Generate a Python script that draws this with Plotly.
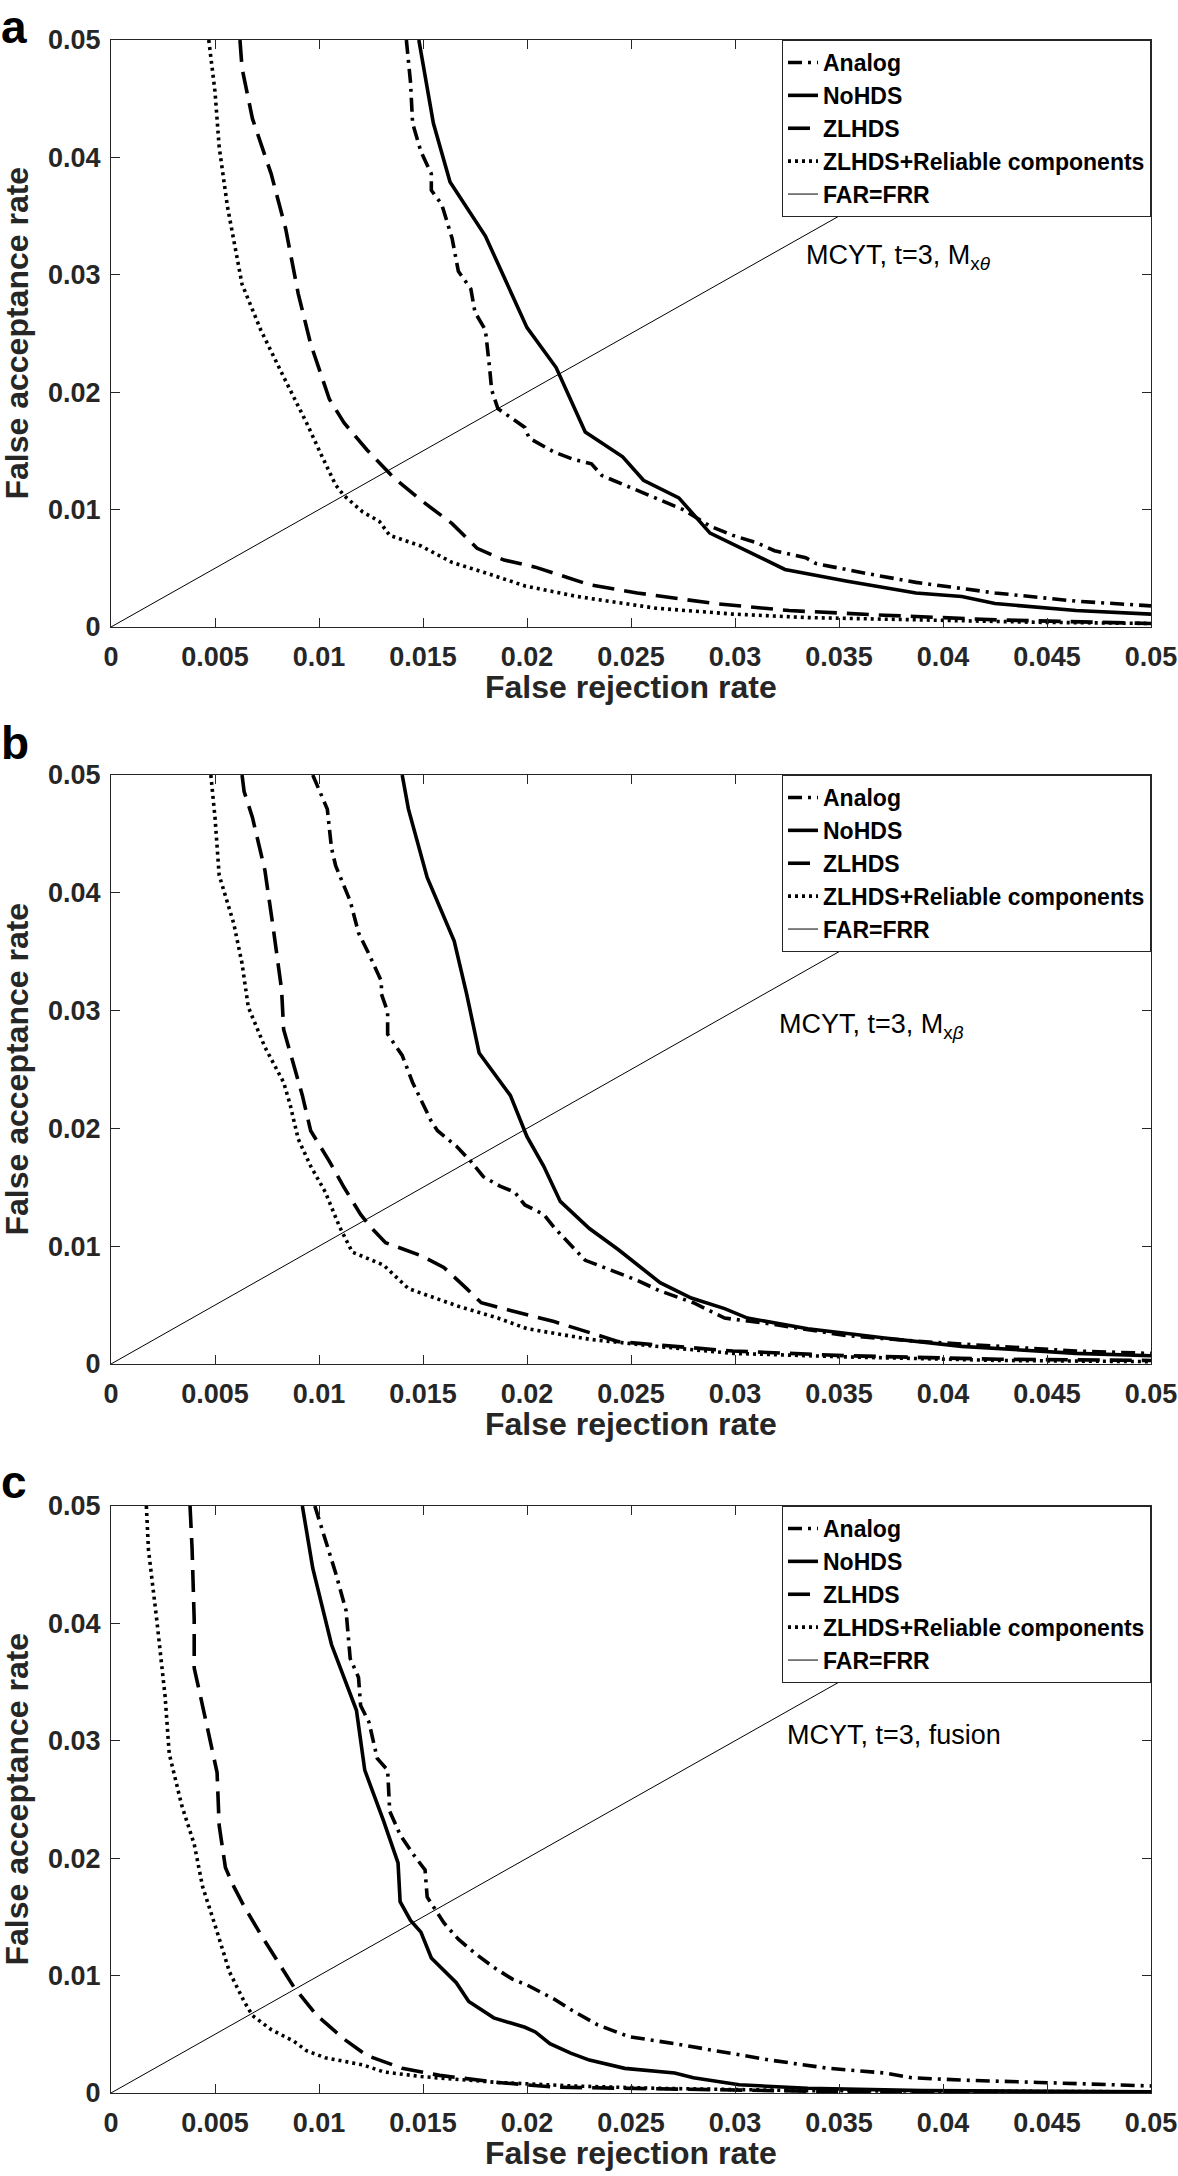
import plotly.graph_objects as go

# ---------------- data ----------------
x_ticks = [0, 0.005, 0.01, 0.015, 0.02, 0.025, 0.03, 0.035, 0.04, 0.045, 0.05]
x_tick_text = ["0", "0.005", "0.01", "0.015", "0.02", "0.025", "0.03", "0.035", "0.04", "0.045", "0.05"]
y_ticks = [0, 0.01, 0.02, 0.03, 0.04, 0.05]
y_tick_text = ["0", "0.01", "0.02", "0.03", "0.04", "0.05"]
far_frr = [0, 0.05]

series_names = ["Analog", "NoHDS", "ZLHDS", "ZLHDS+Reliable components", "FAR=FRR"]
panel_labels = ["a", "b", "c"]
panel_notes = ["MCYT, t=3, M<sub>x<i>θ</i></sub>", "MCYT, t=3, M<sub>x<i>β</i></sub>", "MCYT, t=3, fusion"]
x_title = "False rejection rate"
y_title = "False acceptance rate"

# panel a
a_analog_x = [0.0142, 0.0144, 0.0145, 0.0149, 0.0154, 0.0154, 0.0159, 0.0164, 0.0167, 0.0173, 0.0175, 0.0180, 0.0182, 0.0183, 0.0186, 0.0191, 0.0199, 0.0201, 0.0213, 0.0222, 0.0231, 0.0236, 0.0253, 0.0275, 0.0288, 0.0299, 0.0310, 0.0319, 0.0334, 0.0339, 0.0365, 0.0387, 0.0425, 0.0464, 0.0500]
a_analog_y = [0.0500, 0.0464, 0.0429, 0.0405, 0.0386, 0.0372, 0.0360, 0.0331, 0.0303, 0.0288, 0.0268, 0.0253, 0.0221, 0.0202, 0.0186, 0.0180, 0.0170, 0.0161, 0.0149, 0.0143, 0.0139, 0.0129, 0.0116, 0.0100, 0.0086, 0.0078, 0.0072, 0.0065, 0.0059, 0.0054, 0.0045, 0.0038, 0.0029, 0.0022, 0.0018]
a_nohds_x = [0.0148, 0.0155, 0.0163, 0.0180, 0.0200, 0.0214, 0.0228, 0.0246, 0.0256, 0.0273, 0.0288, 0.0301, 0.0324, 0.0354, 0.0387, 0.0409, 0.0425, 0.0464, 0.0500]
a_nohds_y = [0.0500, 0.0429, 0.0379, 0.0333, 0.0255, 0.0221, 0.0166, 0.0145, 0.0125, 0.0110, 0.0080, 0.0069, 0.0049, 0.0039, 0.0029, 0.0026, 0.0020, 0.0014, 0.0011]
a_zl_x = [0.0062, 0.0063, 0.0068, 0.0077, 0.0084, 0.0090, 0.0096, 0.0105, 0.0112, 0.0123, 0.0136, 0.0149, 0.0164, 0.0176, 0.0189, 0.0204, 0.0230, 0.0253, 0.0290, 0.0326, 0.0372, 0.0427, 0.0500]
a_zl_y = [0.0500, 0.0476, 0.0433, 0.0386, 0.0339, 0.0284, 0.0241, 0.0194, 0.0174, 0.0151, 0.0127, 0.0108, 0.0088, 0.0067, 0.0057, 0.0051, 0.0036, 0.0029, 0.0020, 0.0014, 0.0010, 0.0006, 0.0003]
a_rel_x = [0.0047, 0.0050, 0.0052, 0.0056, 0.0063, 0.0072, 0.0083, 0.0094, 0.0101, 0.0108, 0.0112, 0.0121, 0.0129, 0.0134, 0.0149, 0.0164, 0.0182, 0.0199, 0.0224, 0.0262, 0.0299, 0.0335, 0.0390, 0.0446, 0.0500]
a_rel_y = [0.0500, 0.0456, 0.0409, 0.0358, 0.0292, 0.0253, 0.0213, 0.0174, 0.0147, 0.0121, 0.0112, 0.0098, 0.0090, 0.0078, 0.0069, 0.0055, 0.0045, 0.0035, 0.0026, 0.0016, 0.0011, 0.0008, 0.0006, 0.0004, 0.0003]

# panel b
b_analog_x = [0.0097, 0.0104, 0.0106, 0.0108, 0.0115, 0.0119, 0.0124, 0.0130, 0.0130, 0.0133, 0.0133, 0.0140, 0.0145, 0.0150, 0.0154, 0.0157, 0.0166, 0.0173, 0.0179, 0.0187, 0.0194, 0.0199, 0.0208, 0.0213, 0.0219, 0.0228, 0.0234, 0.0253, 0.0264, 0.0280, 0.0295, 0.0317, 0.0354, 0.0390, 0.0427, 0.0464, 0.0500]
b_analog_y = [0.0500, 0.0471, 0.0438, 0.0423, 0.0393, 0.0366, 0.0348, 0.0325, 0.0314, 0.0299, 0.0280, 0.0262, 0.0239, 0.0221, 0.0206, 0.0198, 0.0185, 0.0172, 0.0159, 0.0151, 0.0146, 0.0135, 0.0127, 0.0116, 0.0105, 0.0088, 0.0084, 0.0071, 0.0062, 0.0052, 0.0039, 0.0034, 0.0024, 0.0019, 0.0015, 0.0011, 0.0009]
b_nohds_x = [0.0140, 0.0143, 0.0152, 0.0165, 0.0171, 0.0177, 0.0192, 0.0200, 0.0208, 0.0216, 0.0230, 0.0244, 0.0264, 0.0279, 0.0295, 0.0306, 0.0335, 0.0372, 0.0409, 0.0464, 0.0500]
b_nohds_y = [0.0500, 0.0471, 0.0413, 0.0359, 0.0314, 0.0264, 0.0228, 0.0193, 0.0168, 0.0138, 0.0115, 0.0097, 0.0069, 0.0056, 0.0047, 0.0039, 0.0030, 0.0022, 0.0015, 0.0009, 0.0007]
b_zl_x = [0.0063, 0.0064, 0.0068, 0.0074, 0.0078, 0.0082, 0.0083, 0.0088, 0.0092, 0.0096, 0.0105, 0.0112, 0.0120, 0.0125, 0.0132, 0.0149, 0.0160, 0.0171, 0.0178, 0.0193, 0.0213, 0.0235, 0.0244, 0.0271, 0.0299, 0.0354, 0.0427, 0.0500]
b_zl_y = [0.0500, 0.0486, 0.0464, 0.0419, 0.0370, 0.0318, 0.0284, 0.0254, 0.0228, 0.0198, 0.0172, 0.0150, 0.0127, 0.0116, 0.0103, 0.0092, 0.0082, 0.0064, 0.0052, 0.0045, 0.0036, 0.0024, 0.0019, 0.0015, 0.0011, 0.0007, 0.0004, 0.0003]
b_rel_x = [0.0048, 0.0050, 0.0052, 0.0059, 0.0063, 0.0066, 0.0074, 0.0083, 0.0086, 0.0090, 0.0096, 0.0103, 0.0110, 0.0116, 0.0131, 0.0143, 0.0167, 0.0186, 0.0200, 0.0230, 0.0262, 0.0299, 0.0354, 0.0427, 0.0500]
b_rel_y = [0.0500, 0.0464, 0.0415, 0.0374, 0.0340, 0.0303, 0.0269, 0.0239, 0.0221, 0.0191, 0.0168, 0.0146, 0.0116, 0.0095, 0.0084, 0.0064, 0.0049, 0.0039, 0.0030, 0.0021, 0.0015, 0.0009, 0.0006, 0.0003, 0.0002]

# panel c
c_analog_x = [0.0098, 0.0103, 0.0108, 0.0113, 0.0115, 0.0119, 0.0120, 0.0124, 0.0128, 0.0133, 0.0134, 0.0139, 0.0145, 0.0151, 0.0152, 0.0160, 0.0167, 0.0175, 0.0184, 0.0193, 0.0200, 0.0213, 0.0222, 0.0234, 0.0249, 0.0271, 0.0290, 0.0317, 0.0345, 0.0372, 0.0385, 0.0409, 0.0446, 0.0500]
c_analog_y = [0.0500, 0.0472, 0.0443, 0.0411, 0.0370, 0.0354, 0.0330, 0.0316, 0.0285, 0.0275, 0.0240, 0.0220, 0.0204, 0.0190, 0.0167, 0.0145, 0.0131, 0.0119, 0.0107, 0.0097, 0.0092, 0.0080, 0.0070, 0.0058, 0.0048, 0.0042, 0.0036, 0.0028, 0.0021, 0.0017, 0.0013, 0.0011, 0.0009, 0.0006]
c_nohds_x = [0.0092, 0.0097, 0.0106, 0.0118, 0.0122, 0.0131, 0.0138, 0.0139, 0.0144, 0.0149, 0.0154, 0.0166, 0.0172, 0.0184, 0.0199, 0.0204, 0.0211, 0.0221, 0.0230, 0.0247, 0.0271, 0.0280, 0.0302, 0.0335, 0.0390, 0.0500]
c_nohds_y = [0.0500, 0.0447, 0.0382, 0.0326, 0.0275, 0.0232, 0.0196, 0.0163, 0.0147, 0.0137, 0.0115, 0.0094, 0.0078, 0.0064, 0.0056, 0.0052, 0.0042, 0.0034, 0.0028, 0.0021, 0.0017, 0.0013, 0.0007, 0.0004, 0.0002, 0.0001]
c_zl_x = [0.0038, 0.0039, 0.0040, 0.0040, 0.0044, 0.0048, 0.0051, 0.0052, 0.0055, 0.0059, 0.0064, 0.0072, 0.0079, 0.0088, 0.0099, 0.0112, 0.0123, 0.0140, 0.0158, 0.0186, 0.0213, 0.0280, 0.0354, 0.0500]
c_zl_y = [0.0500, 0.0463, 0.0403, 0.0362, 0.0330, 0.0297, 0.0273, 0.0228, 0.0192, 0.0176, 0.0159, 0.0135, 0.0115, 0.0090, 0.0066, 0.0046, 0.0032, 0.0021, 0.0015, 0.0009, 0.0005, 0.0003, 0.0001, 0.00005]
c_rel_x = [0.0017, 0.0018, 0.0022, 0.0026, 0.0028, 0.0034, 0.0040, 0.0044, 0.0050, 0.0057, 0.0064, 0.0068, 0.0077, 0.0088, 0.0094, 0.0103, 0.0121, 0.0131, 0.0149, 0.0186, 0.0222, 0.0262, 0.0335, 0.0500]
c_rel_y = [0.0500, 0.0463, 0.0403, 0.0338, 0.0289, 0.0245, 0.0212, 0.0176, 0.0143, 0.0103, 0.0078, 0.0066, 0.0054, 0.0044, 0.0036, 0.0030, 0.0024, 0.0018, 0.0014, 0.0009, 0.0006, 0.0004, 0.0002, 0.0001]

panels = [
    [(a_analog_x, a_analog_y), (a_nohds_x, a_nohds_y), (a_zl_x, a_zl_y), (a_rel_x, a_rel_y)],
    [(b_analog_x, b_analog_y), (b_nohds_x, b_nohds_y), (b_zl_x, b_zl_y), (b_rel_x, b_rel_y)],
    [(c_analog_x, c_analog_y), (c_nohds_x, c_nohds_y), (c_zl_x, c_zl_y), (c_rel_x, c_rel_y)],
]
note_pos = [(0.0333, 0.0315), (0.0320, 0.0287), (0.0324, 0.0305)]

# ---------------- styling ----------------
FONT = "Liberation Sans, Arial, sans-serif"
AX = "#262626"
W, H = 1178, 2176
ML, MR, MT, MB = 111, 27, 40, 83
PW = W - ML - MR
PH = H - MT - MB
domains = [[0.71408, 1.0], [0.35509, 0.64199], [0.0, 0.28592]]
letter_top_px = [0, 716, 1455]          # top of the letter box, px from figure top
dashes = ["14px,6px,3px,6px", "solid", "22px,10px", "3px,4px"]
widths = [3.6, 3.6, 3.6, 3.6]

def py(px_from_top):
    return (H - MB - px_from_top) / PH

fig = go.Figure()
layout = dict(
    width=W, height=H,
    margin=dict(l=ML, r=MR, t=MT, b=MB, autoexpand=False),
    paper_bgcolor="white", plot_bgcolor="white",
    font=dict(family=FONT, color="black"),
    showlegend=True,
    annotations=[],
)
title_font = dict(family=FONT, size=32, color="#262626", weight="bold")

for i, series in enumerate(panels):
    sfx = "" if i == 0 else str(i + 1)
    xa, ya = "x" + sfx, "y" + sfx
    leg = "legend" + sfx
    for j, (xs, ys) in enumerate(series):
        fig.add_trace(go.Scatter(
            x=xs, y=ys, mode="lines", name=series_names[j],
            line=dict(color="black", width=widths[j], dash=dashes[j]),
            xaxis=xa, yaxis=ya, legend=leg, hoverinfo="skip",
        ))
    fig.add_trace(go.Scatter(
        x=far_frr, y=far_frr, mode="lines", name=series_names[4],
        line=dict(color="black", width=1),
        xaxis=xa, yaxis=ya, legend=leg, hoverinfo="skip",
    ))
    common = dict(
        showline=True, linecolor=AX, linewidth=1, mirror="ticks",
        ticks="inside", ticklen=9, tickwidth=1, tickcolor=AX,
        showgrid=False, zeroline=False, fixedrange=True, automargin=False,
        ticklabeloverflow="allow",
        tickfont=dict(family=FONT, size=27, color="#262626", weight="bold"),
    )
    layout["xaxis" + sfx] = dict(
        common, domain=[0, 1], anchor=ya, range=[0, 0.05],
        tickvals=x_ticks, ticktext=x_tick_text, ticklabelstandoff=6,
    )
    layout["yaxis" + sfx] = dict(
        common, domain=domains[i], anchor=xa, range=[0, 0.05],
        tickvals=y_ticks, ticktext=y_tick_text, ticklabelstandoff=4,
    )
    layout[leg] = dict(
        x=1, xanchor="right", y=domains[i][1], yanchor="top",
        bgcolor="white", bordercolor=AX, borderwidth=1,
        font=dict(family=FONT, size=23, color="black", weight="bold"),
        itemwidth=30, tracegroupgap=0,
    )
    # axis titles
    layout["annotations"].append(dict(
        text=x_title, xref="paper", yref="paper", x=0.5, y=domains[i][0] - 60 / PH,
        xanchor="center", yanchor="middle", showarrow=False, font=title_font,
    ))
    layout["annotations"].append(dict(
        text=y_title, xref="paper", yref="paper", x=(17 - ML) / PW,
        y=(domains[i][0] + domains[i][1]) / 2, textangle=-90,
        xanchor="center", yanchor="middle", showarrow=False, font=title_font,
    ))
    # in-plot note
    layout["annotations"].append(dict(
        text=panel_notes[i], xref=xa, yref=ya, x=note_pos[i][0], y=note_pos[i][1],
        xanchor="left", yanchor="middle", showarrow=False,
        font=dict(family=FONT, size=27, color="black"),
    ))
    # panel letter
    layout["annotations"].append(dict(
        text="<b>" + panel_labels[i] + "</b>", xref="paper", yref="paper",
        x=-ML / PW, y=py(letter_top_px[i]), xanchor="left", yanchor="top",
        showarrow=False, borderpad=0, font=dict(family=FONT, size=46, color="black"),
    ))

fig.update_layout(**layout)
fig.write_html(
    "out.html",
    config={"displayModeBar": False, "staticPlot": True},
    post_script="document.body.style.margin='0px';document.body.style.overflow='hidden';",
)
